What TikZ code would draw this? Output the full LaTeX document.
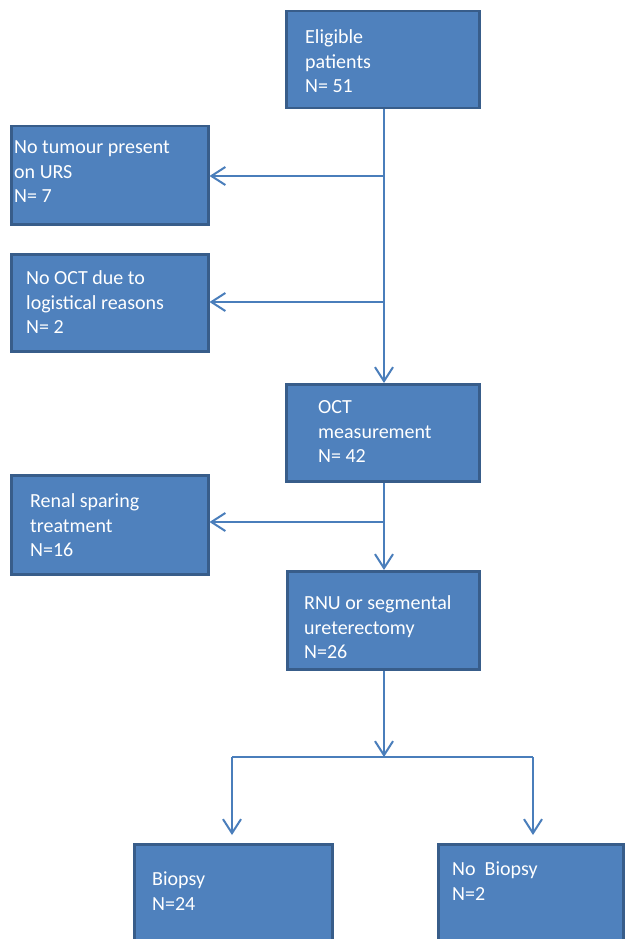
\documentclass[tikz,border=0pt]{standalone}
\usepackage{fontspec}
\setmainfont{Carlito}
\usetikzlibrary{arrows.meta}
\definecolor{boxfill}{HTML}{4F81BD}
\definecolor{boxline}{HTML}{385D8A}
\definecolor{arrowcol}{HTML}{4A7EBB}
\begin{document}
\begin{tikzpicture}[x=1pt,y=-1pt,
  box/.style={draw=boxline, line width=2.5pt, fill=boxfill, anchor=north west, inner sep=0pt},
  txt/.style={anchor=north west, inner sep=0pt, align=left, text=white,
    font=\fontsize{20}{24.5}\selectfont},
  conn/.style={draw=arrowcol, line width=2pt},
  arr/.style={conn, -{Straight Barb[length=14pt,width=18pt,line width=2pt]}}]
\clip (0,0) rectangle (626,939);
\fill[white] (0,0) rectangle (626,939);
% boxes
\node[box, minimum width=193pt, minimum height=97pt] (b1) at (285,10) {};
\node[box, minimum width=197pt, minimum height=98pt] (b2) at (10,125) {};
\node[box, minimum width=197pt, minimum height=97pt] (b3) at (10,253) {};
\node[box, minimum width=193pt, minimum height=97pt] (b4) at (285,383) {};
\node[box, minimum width=197pt, minimum height=99pt] (b5) at (10,474) {};
\node[box, minimum width=192pt, minimum height=98pt] (b6) at (286,570) {};
\node[box, minimum width=198pt, minimum height=110pt] (b7) at (133,843) {};
\node[box, minimum width=185pt, minimum height=110pt] (b8) at (437,843) {};
% texts
\node[txt] (t1) at (305,26.2) {\strut Eligible\\patients\\N= 51};
\node[txt] (t2) at (14,136.2) {\strut No tumour present\\on URS\\N= 7};
\node[txt] (t3) at (26,267.2) {\strut No OCT due to\\logistical reasons\\N= 2};
\node[txt] (t4) at (318,396.2) {\strut OCT\\measurement\\N= 42};
\node[txt] (t5) at (30,490.2) {\strut Renal sparing\\treatment\\N=16};
\node[txt] (t6) at (304,592.2) {\strut RNU or segmental\\ureterectomy\\N=26};
\node[txt] (t7) at (152,868.2) {\strut Biopsy\\N=24};
\node[txt] (t8) at (452,858.2) {\strut No~ Biopsy\\N=2};
% junctions
\coordinate (j1) at (384,176);
\coordinate (j2) at (384,302);
\coordinate (j3) at (384,522);
\coordinate (j4) at (384,757);
\coordinate (jl) at (232,757);
\coordinate (jr) at (533,757);
% connectors
\draw[arr] (j1 |- b1.south) -- (j1 |- b4.north);
\draw[arr] (j1) -- (j1 -| b2.east);
\draw[arr] (j2) -- (j2 -| b3.east);
\draw[arr] (j3 |- b4.south) -- (j3 |- b6.north);
\draw[arr] (j3) -- (j3 -| b5.east);
\draw[arr] (j4 |- b6.south) -- (j4);
\draw[conn] (jl) -- (jr);
\draw[arr, shorten >=8pt] (jl) -- (jl |- b7.north);
\draw[arr, shorten >=8pt] (jr) -- (jr |- b8.north);
\end{tikzpicture}
\end{document}
